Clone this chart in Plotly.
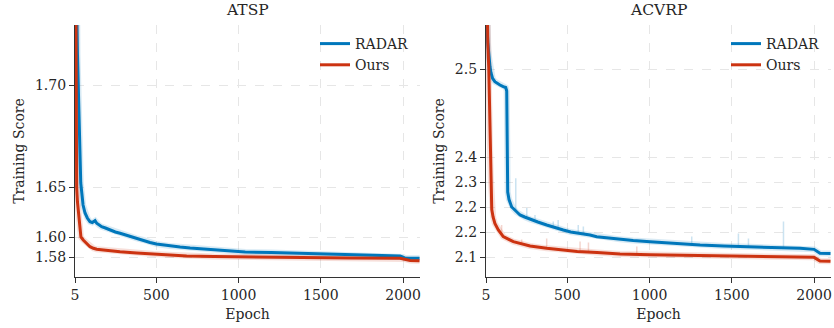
import numpy as np
import plotly.graph_objects as go

# ---------------- data ----------------
atsp_radar_epoch = [5, 10, 15, 20, 25, 32, 40, 54, 66, 80, 96, 110, 127, 137, 150, 167, 190, 218, 250, 279,
                    330, 380, 420, 461, 500, 583, 644, 705, 827, 1040, 1200, 1374, 1500, 1677, 1800, 1982,
                    2000, 2012, 2100]
atsp_radar_score = [1.90, 1.80, 1.74, 1.715, 1.70, 1.672, 1.652, 1.632, 1.624, 1.619, 1.6153, 1.6145, 1.6163,
                    1.6137, 1.612, 1.6103, 1.609, 1.607, 1.605, 1.6037, 1.601, 1.5987, 1.597, 1.5945, 1.593,
                    1.591, 1.590, 1.589, 1.5875, 1.585, 1.5845, 1.5837, 1.583, 1.582, 1.5815, 1.581, 1.580,
                    1.5787, 1.5787]

atsp_ours_epoch = [5, 8, 11, 15, 20, 25, 33, 41, 55, 76, 96, 117, 137, 178, 220, 279, 380, 481, 600, 684,
                   850, 1070, 1374, 1677, 1982, 2010, 2043, 2100]
atsp_ours_score = [1.85, 1.76, 1.70, 1.65, 1.635, 1.627, 1.610, 1.600, 1.597, 1.5937, 1.5903, 1.5887, 1.5877,
                   1.587, 1.586, 1.5853, 1.584, 1.583, 1.582, 1.581, 1.5805, 1.580, 1.5793, 1.579, 1.5787,
                   1.578, 1.5765, 1.5763]

acvrp_radar_epoch = [5, 8, 11, 16, 22, 29, 35, 45, 59, 75, 90, 110, 125, 131, 133, 135, 137, 145, 161, 171,
                     190, 212, 240, 273, 320, 374, 420, 475, 520, 577, 638, 678, 750, 820, 900, 1003, 1150,
                     1307, 1450, 1611, 1750, 1915, 2000, 2036, 2100]
acvrp_radar_score = [2.68, 2.60, 2.55, 2.53, 2.515, 2.503, 2.496, 2.4894, 2.4856, 2.4835, 2.4818, 2.480,
                     2.479, 2.475, 2.42, 2.33, 2.23, 2.215, 2.200, 2.197, 2.19, 2.184, 2.18, 2.1753, 2.17,
                     2.164, 2.159, 2.154, 2.15, 2.1473, 2.144, 2.1407, 2.138, 2.1353, 2.133, 2.1307, 2.127,
                     2.124, 2.122, 2.1207, 2.119, 2.1173, 2.1153, 2.1075, 2.107]

acvrp_ours_epoch = [5, 11, 16, 22, 27, 31, 35, 40, 48, 59, 80, 110, 171, 273, 374, 475, 560, 680, 820, 1003,
                    1307, 1611, 1800, 2000, 2036, 2100]
acvrp_ours_score = [2.66, 2.57, 2.53, 2.50, 2.45, 2.38, 2.26, 2.195, 2.18, 2.167, 2.154, 2.1407, 2.1307,
                    2.122, 2.1173, 2.114, 2.111, 2.109, 2.106, 2.1045, 2.1033, 2.1007, 2.100, 2.0993, 2.092,
                    2.0915]

# occasional spikes of the raw (unsmoothed) ACVRP curves
acvrp_radar_spike_epoch = [186, 253, 303, 414, 444, 566, 597, 1256, 1540, 1601, 1814]
acvrp_radar_spike_base = [2.19, 2.182, 2.175, 2.162, 2.158, 2.149, 2.147, 2.125, 2.121, 2.120, 2.118]
acvrp_radar_spike_top = [2.272, 2.198, 2.184, 2.171, 2.174, 2.164, 2.161, 2.141, 2.147, 2.137, 2.171]

acvrp_ours_spike_epoch = [100, 222, 374, 577, 628, 922]
acvrp_ours_spike_base = [2.145, 2.126, 2.117, 2.112, 2.110, 2.105]
acvrp_ours_spike_top = [2.164, 2.135, 2.137, 2.131, 2.129, 2.121]

x_ticks = [5, 500, 1000, 1500, 2000]
atsp_ticks = [1.58, 1.60, 1.65, 1.70]
atsp_tick_labels = ["1.58", "1.60", "1.65", "1.70"]
acvrp_ticks = [2.10, 2.15, 2.20, 2.25, 2.40, 2.50]
acvrp_tick_labels = ["2.1", "2.2", "2.2", "2.3", "2.4", "2.5"]

# ---------------- custom piecewise y scale ----------------
ATSP_KV, ATSP_KD = [1.58, 1.60, 1.65, 1.70], [0, 20, 70, 172]
ACVRP_KV, ACVRP_KD = [2.10, 2.15, 2.20, 2.25, 2.40, 2.50], [0, 25, 50, 75, 100, 188]


def scale(vals, kv, kd):
    v = np.asarray(vals, dtype=float)
    d = np.interp(v, kv, kd)
    lo_slope = (kd[1] - kd[0]) / (kv[1] - kv[0])
    hi_slope = (kd[-1] - kd[-2]) / (kv[-1] - kv[-2])
    d = np.where(v < kv[0], kd[0] + (v - kv[0]) * lo_slope, d)
    d = np.where(v > kv[-1], kd[-1] + (v - kv[-1]) * hi_slope, d)
    return d


BLUE = "#0077BB"
RED = "#CC3311"
FONT = "DejaVu Serif"
TXT = "#262626"

fig = go.Figure()


def add_panel(xa, ya, legend, kv, kd, r_e, r_s, o_e, o_s, spikes=None):
    # faint raw halo
    for e, s, c in [(r_e, r_s, BLUE), (o_e, o_s, RED)]:
        fig.add_trace(go.Scatter(x=e, y=scale(s, kv, kd), mode="lines", xaxis=xa, yaxis=ya,
                                 line=dict(color=c, width=6), opacity=0.15, showlegend=False,
                                 hoverinfo="skip"))
    if spikes:
        for (se, sb, st), c in spikes:
            xs, ys = [], []
            for e, b, t in zip(se, sb, st):
                xs += [e, e, None]
                ys += [float(scale([b], kv, kd)[0]), float(scale([t], kv, kd)[0]), None]
            fig.add_trace(go.Scatter(x=xs, y=ys, mode="lines", xaxis=xa, yaxis=ya,
                                     line=dict(color=c, width=1.5), opacity=0.2, showlegend=False,
                                     hoverinfo="skip"))
    fig.add_trace(go.Scatter(x=r_e, y=scale(r_s, kv, kd), mode="lines", name="RADAR", xaxis=xa, yaxis=ya,
                             line=dict(color=BLUE, width=3), legend=legend))
    fig.add_trace(go.Scatter(x=o_e, y=scale(o_s, kv, kd), mode="lines", name="Ours", xaxis=xa, yaxis=ya,
                             line=dict(color=RED, width=3), legend=legend))


add_panel("x", "y", "legend", ATSP_KV, ATSP_KD, atsp_radar_epoch, atsp_radar_score,
          atsp_ours_epoch, atsp_ours_score)
add_panel("x2", "y2", "legend2", ACVRP_KV, ACVRP_KD, acvrp_radar_epoch, acvrp_radar_score,
          acvrp_ours_epoch, acvrp_ours_score,
          spikes=[((acvrp_radar_spike_epoch, acvrp_radar_spike_base, acvrp_radar_spike_top), BLUE),
                  ((acvrp_ours_spike_epoch, acvrp_ours_spike_base, acvrp_ours_spike_top), RED)])

W, H = 834, 328
tick_font = dict(family=FONT, size=14, color=TXT)

xcommon = dict(range=[5, 2103], tickvals=x_ticks, ticktext=[str(t) for t in x_ticks],
               showline=True, linecolor="#333333", linewidth=1.3, ticks="outside", ticklen=5,
               tickcolor="#333333", tickwidth=1.2, showgrid=True, gridcolor="#e6e6e6", griddash="dash",
               gridwidth=0.8, zeroline=False, tickfont=tick_font, automargin=False,
               title=dict(text="Epoch", font=tick_font, standoff=7))
ycommon = dict(range=[-20, 232], showline=True, linecolor="#333333", linewidth=1.3, ticks="outside",
               ticklen=5, tickcolor="#333333", tickwidth=1.2, showgrid=True, gridcolor="#e6e6e6",
               griddash="dash", gridwidth=0.8, zeroline=False, tickfont=tick_font, automargin=False,
               title=dict(text="Training Score", font=tick_font, standoff=6))

ydom = [(H - 277) / H, (H - 25) / H]
fig.update_layout(
    width=W, height=H, margin=dict(l=0, r=0, t=0, b=0, autoexpand=False),
    paper_bgcolor="white", plot_bgcolor="white",
    font=dict(family=FONT, color=TXT),
    xaxis=dict(xcommon, domain=[75 / W, 420 / W], anchor="y"),
    yaxis=dict(ycommon, domain=ydom, anchor="x",
               tickvals=scale(atsp_ticks, ATSP_KV, ATSP_KD).tolist(), ticktext=atsp_tick_labels),
    xaxis2=dict(xcommon, domain=[486 / W, 831 / W], anchor="y2"),
    yaxis2=dict(ycommon, domain=ydom, anchor="x2",
                tickvals=scale(acvrp_ticks, ACVRP_KV, ACVRP_KD).tolist(), ticktext=acvrp_tick_labels),
    legend=dict(x=315 / W, y=(H - 28) / H, xanchor="left", yanchor="top", bgcolor="rgba(0,0,0,0)",
                font=dict(family=FONT, size=14, color=TXT), tracegroupgap=0),
    legend2=dict(x=726 / W, y=(H - 28) / H, xanchor="left", yanchor="top", bgcolor="rgba(0,0,0,0)",
                 font=dict(family=FONT, size=14, color=TXT), tracegroupgap=0),
    annotations=[
        dict(text="ATSP", x=(75 + 420) / 2 / W, y=(H - 10.5) / H, xref="paper", yref="paper",
             showarrow=False, xanchor="center", yanchor="middle", font=dict(family=FONT, size=15.5, color=TXT)),
        dict(text="ACVRP", x=(486 + 831) / 2 / W, y=(H - 10.5) / H, xref="paper", yref="paper",
             showarrow=False, xanchor="center", yanchor="middle", font=dict(family=FONT, size=15.5, color=TXT)),
    ],
    showlegend=True,
)

fig.write_html("out.html", config={"displayModeBar": False},
               post_script="document.body.style.margin='0px';")
